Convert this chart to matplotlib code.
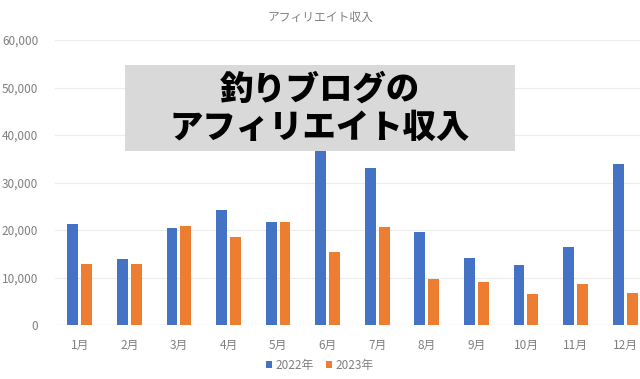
import numpy as np
import matplotlib
matplotlib.use("Agg")
import matplotlib.pyplot as plt
from matplotlib.patches import Rectangle

plt.rcParams['font.family'] = ['Noto Sans CJK JP', 'DejaVu Sans']

months = ["1月", "2月", "3月", "4月", "5月", "6月", "7月", "8月", "9月", "10月", "11月", "12月"]
income_2022 = [21200, 13900, 20400, 24200, 21600, 42000, 33000, 19600, 14100, 12600, 16400, 33900]
income_2023 = [12900, 12800, 20800, 18500, 21600, 15400, 20600, 9700, 9000, 6500, 8600, 6700]
yticks = [0, 10000, 20000, 30000, 40000, 50000, 60000]

blue = "#4472C4"
orange = "#ED7D31"
gray_text = "#7f7f7f"

fig = plt.figure(figsize=(6.4, 3.79), dpi=100)
ax = fig.add_axes([55 / 640, 54 / 379, 585 / 640, 285 / 379])

x = np.arange(len(months))
w = 0.22
ax.bar(x - 0.14, income_2022, w, color=blue, label="2022年", zorder=2)
ax.bar(x + 0.14, income_2023, w, color=orange, label="2023年", zorder=2)

ax.set_xlim(-0.5, 11.3)
ax.set_ylim(0, 60000)
ax.set_yticks(yticks)
ax.set_yticklabels([f"{v:,}" for v in yticks])
ax.set_xticks(x)
ax.set_xticklabels(months)
ax.tick_params(axis="both", length=0, colors=gray_text, labelsize=8.5)
ax.tick_params(axis="x", pad=10)
ax.tick_params(axis="y", pad=12)
ax.grid(axis="y", color="#ececec", linewidth=0.8, zorder=0)
for s in ax.spines.values():
    s.set_visible(False)
ax.axhline(0, color="#d9d9d9", linewidth=0.8, zorder=1)

fig.text(320 / 640, 1 - 17 / 379, "アフィリエイト収入", ha="center", va="center",
         fontsize=8.5, color=gray_text)

leg = fig.legend(loc="center", bbox_to_anchor=(320 / 640, 1 - 365 / 379), ncol=2,
                 frameon=False, fontsize=8.5, handlelength=0.5, handleheight=0.5,
                 handletextpad=0.3, columnspacing=1.0)
for t in leg.get_texts():
    t.set_color(gray_text)

# overlay title box
fig.patches.append(Rectangle((125 / 640, 1 - 151 / 379), 390 / 640, 86 / 379,
                             transform=fig.transFigure, facecolor="#d9d9d9",
                             edgecolor="none", zorder=5))
fig.text(320 / 640, 1 - 89 / 379, "釣りブログの", ha="center", va="center",
         fontsize=24, fontweight="heavy", color="black", zorder=6)
fig.text(320 / 640, 1 - 127 / 379, "アフィリエイト収入", ha="center", va="center",
         fontsize=24, fontweight="heavy", color="black", zorder=6)

fig.savefig("out.png", dpi=100)
